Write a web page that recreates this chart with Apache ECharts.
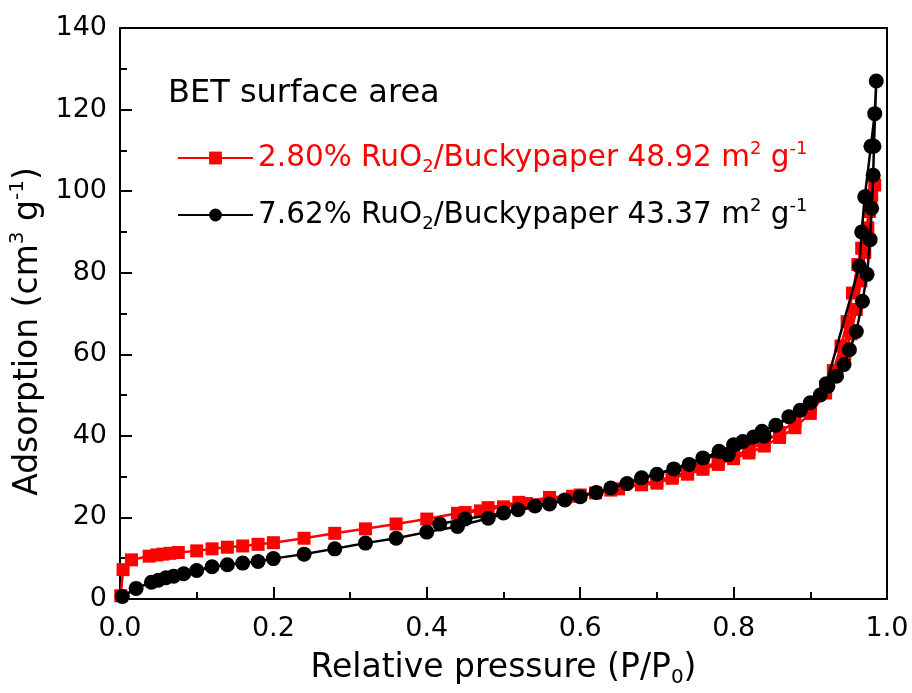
<!DOCTYPE html>
<html>
<head>
<meta charset="utf-8">
<script src="https://cdn.jsdelivr.net/npm/echarts@6/dist/echarts.min.js"></script>
<style>
  html, body { margin: 0; padding: 0; background: #fff; }
  #chart { width: 912px; height: 693px; }
</style>
</head>
<body>
<div id="chart"></div>
<script>
// 2.80% RuO2 sample: adsorption then desorption branch
const redX = [0.001, 0.004, 0.015, 0.038, 0.048, 0.056, 0.065, 0.076, 0.10, 0.12, 0.14, 0.16, 0.18, 0.20, 0.24, 0.28, 0.32, 0.36, 0.40, 0.44, 0.48, 0.52, 0.56, 0.60, 0.64, 0.68, 0.70, 0.72, 0.74, 0.76, 0.78, 0.80, 0.82, 0.84, 0.86, 0.88, 0.90, 0.92, 0.935, 0.945, 0.953, 0.96, 0.966, 0.971, 0.975, 0.979, 0.984,
  0.980, 0.977, 0.972, 0.967, 0.962, 0.955, 0.948, 0.940, 0.930, 0.920, 0.900, 0.880, 0.860, 0.840, 0.820, 0.800, 0.780, 0.760, 0.740, 0.720, 0.700, 0.680, 0.650, 0.620, 0.590, 0.560, 0.530, 0.500, 0.470, 0.450];
const redY = [0.8, 7.2, 9.6, 10.5, 10.8, 11.0, 11.2, 11.4, 11.8, 12.3, 12.7, 13.0, 13.4, 13.8, 14.9, 16.1, 17.2, 18.4, 19.6, 21.0, 22.4, 23.7, 24.9, 25.5, 26.7, 28.0, 28.4, 29.6, 30.6, 31.8, 33.0, 34.4, 35.8, 37.5, 39.6, 42.0, 45.5, 50.5, 55.5, 60.0, 65.0, 71.0, 78.0, 85.0, 91.0, 96.5, 101.5,
  99.0, 95.0, 90.0, 86.0, 82.0, 75.0, 68.0, 62.0, 56.0, 52.0, 47.0, 43.5, 40.8, 38.5, 36.6, 35.0, 33.5, 32.3, 31.1, 30.0, 29.0, 28.2, 27.0, 26.0, 25.2, 24.3, 23.4, 22.6, 21.6, 21.2];

// 7.62% RuO2 sample: adsorption then desorption branch
const blackX = [0.003, 0.021, 0.041, 0.050, 0.060, 0.070, 0.083, 0.10, 0.12, 0.14, 0.16, 0.18, 0.20, 0.24, 0.28, 0.32, 0.36, 0.40, 0.44, 0.48, 0.519, 0.56, 0.60, 0.64, 0.68, 0.722, 0.76, 0.793, 0.84, 0.872, 0.90, 0.913, 0.923, 0.934, 0.944, 0.951, 0.960, 0.968, 0.974, 0.978, 0.980, 0.982, 0.983, 0.986,
  0.984, 0.979, 0.971, 0.967, 0.964, 0.921, 0.887, 0.855, 0.837, 0.826, 0.812, 0.800, 0.781, 0.742, 0.700, 0.661, 0.621, 0.580, 0.541, 0.500, 0.450, 0.417];
const blackY = [0.6, 2.6, 4.1, 4.6, 5.2, 5.6, 6.2, 7.0, 7.9, 8.4, 8.8, 9.2, 9.9, 11.0, 12.3, 13.7, 14.9, 16.4, 17.8, 19.8, 21.9, 23.3, 25.1, 27.2, 29.7, 31.9, 34.6, 35.4, 39.9, 44.7, 48.1, 50.0, 52.2, 54.6, 57.5, 61.1, 65.6, 73.0, 79.6, 88.1, 95.8, 103.9, 111.0, 127.0,
  119.0, 111.0, 98.6, 90.0, 81.6, 52.8, 46.3, 42.6, 41.1, 39.7, 38.6, 37.8, 36.2, 33.0, 30.6, 28.3, 26.1, 24.3, 22.8, 21.1, 19.6, 18.4];

const xTicks = [0, 0.2, 0.4, 0.6, 0.8, 1.0];
const yTicks = [0, 20, 40, 60, 80, 100, 120, 140];

const legendNames = ['2.80% RuO2/Buckypaper 48.92 m2 g-1', '7.62% RuO2/Buckypaper 43.37 m2 g-1'];

const font = 'DejaVu Sans';

const toPairs = (xs, ys) => xs.map((x, i) => [x, ys[i]]);

const legendLabel = (name) => {
  const parts = name.split(' ');
  // "2.80% RuO2/Buckypaper 48.92 m2 g-1"
  return '{n|' + parts[0] + ' RuO}{sub|2}{n|/Buckypaper ' + parts[2] + ' m}{sup|2}{n| g}{sup|-1}';
};

const axisStyle = {
  axisLine: { show: true, onZero: false, lineStyle: { color: '#000', width: 2 } },
  axisTick: { show: true, inside: true, length: 12, lineStyle: { color: '#000', width: 2 } },
  minorTick: { show: true, splitNumber: 2, length: 7, lineStyle: { color: '#000', width: 2 } },
  splitLine: { show: false },
  axisLabel: { color: '#000', fontFamily: font, fontSize: 27, margin: 13 }
};

const getOption = () => {
  return {
    backgroundColor: '#fff',
    animation: false,
    grid: { left: 120, right: 25, top: 28, bottom: 89, show: true, borderColor: '#000', borderWidth: 2 },
    graphic: [{
      type: 'text',
      left: 168,
      top: 78,
      style: { text: 'BET surface area', fontFamily: font, fontSize: 32, fill: '#000' }
    }],
    legend: {
      orient: 'vertical',
      left: 172,
      top: 135,
      itemWidth: 75,
      itemHeight: 16,
      itemGap: 21,
      selectedMode: false,
      formatter: legendLabel,
      lineStyle: { width: 2 },
      textStyle: {
        fontFamily: font,
        fontSize: 29.5,
        rich: {
          n: { fontFamily: font, fontSize: 29.5, lineHeight: 36 },
          sub: { fontFamily: font, fontSize: 18, lineHeight: 20, verticalAlign: 'bottom' },
          sup: { fontFamily: font, fontSize: 18, lineHeight: 18, verticalAlign: 'top' }
        }
      },
      data: [
        { name: legendNames[0], textStyle: { color: '#ff0000' } },
        { name: legendNames[1], textStyle: { color: '#000' } }
      ]
    },
    xAxis: Object.assign({
      type: 'value',
      min: xTicks[0],
      max: xTicks[xTicks.length - 1],
      interval: 0.2,
      name: '{n|Relative pressure (P/P}{sub|0}{n|)}',
      nameLocation: 'middle',
      nameGap: 49,
      nameTextStyle: {
        color: '#000',
        fontFamily: font,
        fontSize: 33,
        rich: {
          n: { fontFamily: font, fontSize: 33, lineHeight: 40, color: '#000' },
          sub: { fontFamily: font, fontSize: 20, lineHeight: 20, verticalAlign: 'bottom', color: '#000' }
        }
      }
    }, axisStyle, {
      axisLabel: Object.assign({}, axisStyle.axisLabel, { margin: 16, formatter: (v) => v.toFixed(1) })
    }),
    yAxis: Object.assign({
      type: 'value',
      min: yTicks[0],
      max: yTicks[yTicks.length - 1],
      interval: 20,
      name: '{n|Adsorption (cm}{sup|3}{n| g}{sup|-1}{n|)}',
      nameLocation: 'middle',
      nameGap: 58,
      nameTextStyle: {
        color: '#000',
        fontFamily: font,
        fontSize: 33,
        padding: [0, 36, 0, 0],
        rich: {
          n: { fontFamily: font, fontSize: 33, lineHeight: 40, color: '#000' },
          sup: { fontFamily: font, fontSize: 20, lineHeight: 20, verticalAlign: 'top', color: '#000' }
        }
      }
    }, axisStyle),
    series: [
      {
        name: legendNames[0],
        type: 'line',
        data: toPairs(redX, redY),
        symbol: 'rect',
        symbolSize: 13,
        color: '#ff0000',
        lineStyle: { color: '#ff0000', width: 2.5 },
        itemStyle: { color: '#ff0000' },
        z: 2
      },
      {
        name: legendNames[1],
        type: 'line',
        data: toPairs(blackX, blackY),
        symbol: 'circle',
        symbolSize: 15,
        color: '#000',
        lineStyle: { color: '#000', width: 2.5 },
        itemStyle: { color: '#000' },
        z: 3
      }
    ]
  };
};

window.addEventListener('load', () => {
  const chart = echarts.init(document.getElementById('chart'));
  chart.setOption(getOption());
});
</script>
</body>
</html>
